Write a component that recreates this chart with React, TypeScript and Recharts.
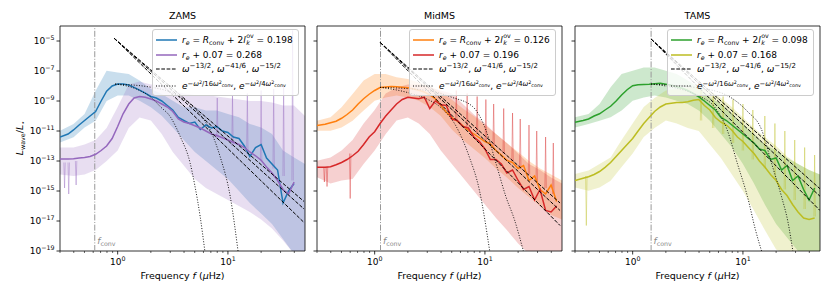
import React from "react";
import { ComposedChart, Line, Area, XAxis, YAxis, ReferenceLine, ReferenceArea } from "recharts";

const FONT = '"DejaVu Sans", sans-serif';

// frequency grids (µHz)
const smoothFreq = [
  0.3, 0.355, 0.398, 0.447, 0.501, 0.562, 0.631, 0.708, 0.794, 0.891,
  1, 1.12, 1.26, 1.41, 1.58, 1.78, 2, 2.24, 2.51, 2.82,
  3.16, 3.55, 3.98, 4.47, 5.01, 5.62, 6.31, 7.08, 7.94, 8.91,
  10, 11.2, 12.6, 14.1, 15.8, 17.8, 20, 22.4, 25.1, 28.2,
  31.6, 35.5, 39.8, 44.7,
];
const bandFreq = [0.3, 0.398, 0.501, 0.631, 0.794, 1, 1.26, 1.58, 2, 2.51, 3.16, 3.98, 5.01, 6.31, 7.94, 10, 12.6, 15.8, 20, 25.1, 31.6, 39.8, 50];

// smoothed spectra, log10(L_wave / L_*)
const zamsBlue = [
  -11.4, -11.2, -10.93, -10.6, -10.3, -10.0, -9.7, -9.0, -8.35, -8.0,
  -7.87, -7.87, -7.93, -8.09, -8.27, -8.47, -8.7, -8.8, -9.0, -9.3,
  -9.6, -10.1, -10.3, -10.5, -10.4, -10.9, -10.6, -10.8, -10.7, -11.0,
  -11.1, -11.4, -11.5, -12.0, -12.7, -12.1, -11.9, -12.8, -13.2, -13.6,
  -15.8, -15.0, -14.5, null,
];
const zamsPurple = [
  -12.87, -12.87, -12.85, -12.8, -12.76, -12.7, -12.55, -12.3, -12.0, -11.5,
  -10.7, -9.85, -9.2, -8.8, -8.7, -8.75, -8.87, -9.0, -9.2, -9.4,
  -9.7, -10.2, -10.4, -10.5, -10.65, -10.8, -11.0, -11.2, -11.3, -11.45,
  -11.6, -11.75, -11.9, -12.1, -12.4, -12.65, -12.95, -13.4, -13.8, -14.3,
  -14.9, -15.2, -14.4, null,
];
const midOrange = [
  -10.64, -10.55, -10.45, -10.35, -10.15, -9.9, -9.6, -9.2, -8.85, -8.55,
  -8.3, -8.1, -8.06, -8.04, -8.05, -8.08, -8.12, -8.2, -8.28, -8.4,
  -8.6, -8.85, -9.3, -9.75, -10.1, -10.35, -10.65, -10.95, -11.2, -11.45,
  -11.7, -11.85, -12.3, -12.6, -12.95, -13.1, -13.5, -13.3, -14.3, -14.0,
  -14.9, -15.2, -14.6, -15.7,
];
const midRed = [
  -13.42, -13.42, -13.38, -13.25, -13.1, -12.9, -12.65, -12.35, -11.9, -11.4,
  -11.05, -10.5, -10.0, -9.6, -9.2, -8.9, -8.75, -8.8, -8.85, -8.75,
  -9.5, -9.0, -9.25, -9.3, -10.2, -10.3, -10.7, -10.8, -11.4, -11.7,
  -12.2, -12.9, -12.9, -13.2, -13.8, -13.6, -14.3, -14.9, -14.7, -15.6,
  -14.9, -16.3, -16.4, -16.0,
];
const tamsGreen = [
  -10.42, -10.3, -10.2, -10.0, -9.85, -9.6, -9.35, -9.0, -8.6, -8.25,
  -7.98, -7.92, -7.9, -7.88, -7.85, -7.82, -7.88, -7.95, -8.05, -8.15,
  -8.3, -8.5, -8.72, -9.0, -9.3, -9.6, -10.1, -10.3, -10.6, -10.9,
  -11.2, -11.5, -11.8, -12.2, -12.3, -12.9, -12.8, -13.6, -13.3, -14.3,
  -14.0, -14.9, -15.6, -14.8,
];
const tamsOlive = [
  -14.31, -14.15, -14.05, -13.9, -13.7, -13.42, -13.1, -12.7, -12.3, -11.9,
  -11.5, -11.0, -10.5, -10.1, -9.7, -9.4, -9.2, -9.15, -9.1, -9.1,
  -9.05, -8.95, -8.9, -9.3, -9.6, -10.1, -10.4, -10.6, -10.95, -11.4,
  -11.7, -12.1, -12.5, -13.0, -13.4, -13.9, -14.3, -14.9, -15.3, -15.9,
  -16.4, -16.8, -16.9, -16.8,
];

// raw spectra envelopes (low / high)
const zamsBlueLo = [-11.76, -11.42, -10.76, -10.31, -9.0, -8.64, -8.64, -8.98, -9.42, -9.98, -10.76, -11.6, -12.4, -13.0, -13.6, -14.2, -15.0, -15.8, -16.5, -17.2, -18.2, -19.2, -19.2];
const zamsBlueHi = [-10.98, -10.53, -9.87, -8.31, -6.98, -7.1, -7.2, -7.64, -8.2, -8.53, -8.98, -9.42, -9.42, -9.64, -9.64, -9.87, -10.09, -10.53, -10.76, -11.2, -12.3, -12.76, -13.2];
const zamsPurpleLo = [-13.9, -14.0, -13.9, -13.6, -13.0, -12.3, -10.8, -10.1, -10.3, -11.2, -12.4, -13.3, -14.2, -14.8, -15.2, -15.6, -16.0, -16.4, -16.9, -17.5, -18.3, -19.2, -19.2];
const zamsPurpleHi = [-12.1, -12.1, -11.9, -11.6, -10.8, -9.4, -7.9, -7.7, -7.9, -7.9, -8.3, -8.5, -8.6, -8.6, -8.7, -8.8, -8.9, -9.0, -9.0, -9.1, -9.3, -9.3, -10.0];
const midOrangeLo = [-10.98, -10.98, -10.76, -10.31, -9.64, -8.98, -8.76, -8.64, -8.76, -8.98, -9.4, -10.0, -10.9, -11.6, -12.2, -12.8, -13.5, -14.1, -14.8, -15.4, -16.0, -16.6, -16.9];
const midOrangeHi = [-10.31, -10.09, -9.42, -8.53, -7.64, -7.2, -7.2, -7.42, -7.53, -7.76, -8.0, -8.4, -8.9, -9.5, -10.0, -10.6, -11.2, -11.8, -12.4, -13.0, -13.5, -13.9, -14.3];
const midRedLo = [-14.09, -14.5, -14.3, -14.2, -13.2, -12.3, -11.2, -10.3, -10.1, -10.5, -11.2, -12.3, -13.2, -14.1, -15.0, -15.9, -16.8, -17.6, -18.5, -19.2, -19.2, -19.2, -19.2];
const midRedHi = [-12.98, -12.76, -12.3, -11.6, -10.5, -9.6, -8.5, -8.1, -7.9, -7.9, -8.1, -8.3, -8.5, -9.2, -9.9, -10.5, -11.2, -11.8, -12.5, -13.2, -13.6, -14.1, -14.5];
const tamsGreenLo = [-10.76, -10.53, -10.31, -10.09, -9.64, -8.98, -8.76, -8.64, -8.76, -8.98, -9.2, -9.64, -10.31, -11.2, -12.09, -13.2, -14.5, -15.9, -17.2, -18.1, -19.0, -19.2, -19.2];
const tamsGreenHi = [-10.09, -9.87, -9.2, -8.09, -7.2, -6.98, -6.76, -6.76, -6.98, -7.2, -7.64, -8.09, -8.76, -9.2, -9.87, -10.53, -11.2, -11.9, -12.3, -12.8, -13.2, -13.6, -13.9];
const tamsOliveLo = [-14.76, -14.98, -14.76, -14.31, -13.4, -12.5, -11.4, -10.8, -10.3, -10.5, -10.8, -11.0, -11.9, -12.8, -13.9, -15.0, -16.3, -17.6, -18.9, -19.2, -19.2, -19.2, -19.2];
const tamsOliveHi = [-13.87, -13.64, -13.2, -12.76, -11.6, -10.5, -9.4, -8.8, -8.3, -8.2, -8.1, -8.1, -8.3, -8.8, -9.4, -10.1, -10.8, -11.4, -12.0, -12.7, -13.2, -13.6, -13.9];

// narrow peaks and dips in the raw spectra of the second series
const zamsSpikeF = [0.33, 0.36, 0.42, 8, 11, 15, 20, 26, 32, 38.6];
const zamsSpikeBase = [-13.1, -13.1, -13.0, -11.5, -12, -12.5, -13, -13.5, -14, -14.3];
const zamsSpikeTop = [-14.8, -15.2, -14.6, -8.8, -8.6, -8.5, -8.3, -8.2, -8.0, -4.3];
const midSpikeF = [0.35, 0.37, 0.6, 5.5, 6.9, 8.5, 10.2, 12.0, 14.8, 17.8, 20.9, 25.1, 29.5, 35.5, 41.7];
const midSpikeBase = [-13.4, -13.4, -12.5, -10.3, -10.7, -11.2, -11.6, -12.0, -12.5, -13.0, -13.4, -13.9, -14.4, -14.8, -15.2];
const midSpikeTop = [-14.4, -14.7, -15.5, -8.3, -8.5, -8.7, -8.9, -9.2, -9.5, -9.8, -10.2, -10.6, -11.0, -11.4, -11.8];
const tamsSpikeF = [0.38, 4.17, 5.37, 6.61, 8.13, 10, 12.3, 15.8, 19.5, 24, 29.5, 36.3, 44.7];
const tamsSpikeBase = [-14.0, -10.3, -10.8, -11.2, -11.8, -12.3, -12.9, -13.5, -14.2, -14.9, -15.6, -16.2, -16.7];
const tamsSpikeTop = [-17.3, -8.3, -8.5, -8.7, -8.9, -9.2, -9.6, -10.0, -10.5, -11.0, -11.6, -12.1, -12.6];

// power laws omega^-13/2, -41/6, -15/2 (start point, end points)
const powerStartF = [0.93, 1.12, 1.47];
const powerStartL = [-4.82, -5.09, -4.87];
const powerEndF = [49, 48, 50];
const powerEnd13_2 = [-15.7, -15.8, -14.85];
const powerEnd41_6 = [-16.2, -16.3, -15.35];
const powerEnd15_2 = [-17.1, -17.3, -16.3];

// gaussian cut-offs (narrow = 1/16, wide = 1/4)
const zamsNarrowF = [0.95, 1.5, 2, 2.44, 3, 3.7, 4.55, 5, 5.6, 6.2];
const zamsNarrowL = [-7.87, -8.22, -8.75, -9.38, -10.05, -11.38, -13.16, -14.6, -16.7, -19.1];
const zamsWideF = [0.95, 2, 3, 4, 5, 6, 6.9, 8.5, 10.5, 12.4];
const zamsWideL = [-7.87, -8.08, -8.4, -8.9, -9.5, -10.2, -10.93, -12.71, -15.38, -19.1];
const midNarrowF = [1.12, 2, 3, 3.9, 5.5, 7.2, 8.9, 11.1];
const midNarrowL = [-8.09, -8.44, -8.88, -9.38, -10.71, -12.71, -14.93, -19.1];
const midWideF = [1.12, 3, 5, 7.76, 10.2, 12.6, 15.5, 18.5, 22.5];
const midWideL = [-8.09, -8.3, -8.75, -9.38, -10.93, -13.16, -15.38, -16.9, -19.1];
const tamsNarrowF = [1.47, 2, 3, 4, 5.5, 7.2, 8.9, 11, 13, 14.9];
const tamsNarrowL = [-7.87, -8.0, -8.3, -8.67, -9.38, -10.93, -13.16, -15.38, -17.6, -19.1];
const tamsWideF = [1.47, 5, 8, 11, 14.8, 18.2, 22.4, 25.5, 28.5];
const tamsWideL = [-7.87, -8.25, -8.83, -9.7, -10.93, -13.16, -15.38, -17.0, -19.1];

const titles = ["ZAMS", "MidMS", "TAMS"];
const fConv = [0.62, 1.13, 1.47];
const reValues = ["0.198", "0.126", "0.098"];
const rePlusValues = ["0.268", "0.196", "0.168"];
const panelLeft = [60, 317, 575];

const xTicks = [0.3, 0.4, 0.5, 0.6, 0.7, 0.8, 0.9, 1, 2, 3, 4, 5, 6, 7, 8, 9, 10, 20, 30, 40];
const yTicks = [-19, -17, -15, -13, -11, -9, -7, -5];

const pts = (fs: number[], vs: (number | null)[]) => fs.map((f, i) => ({ f, v: vs[i] }));
const band = (lo: number[], hi: number[]) => bandFreq.map((f, i) => ({ f, range: [lo[i], hi[i]] }));
const spikes = (fs: number[], base: number[], top: number[]) =>
  fs.flatMap((f, i) => [
    { f: f * 0.985, v: base[i] },
    { f, v: top[i] },
    { f: f * 1.015, v: base[i] },
    { f: f * 1.02, v: null },
  ]);

const panels = [
  {
    c1: "#1f77b4", c2: "#9467bd",
    band1: band(zamsBlueLo, zamsBlueHi), band2: band(zamsPurpleLo, zamsPurpleHi),
    smooth1: pts(smoothFreq, zamsBlue), smooth2: pts(smoothFreq, zamsPurple),
    spikes: spikes(zamsSpikeF, zamsSpikeBase, zamsSpikeTop),
    dots: [pts(zamsNarrowF, zamsNarrowL), pts(zamsWideF, zamsWideL)],
  },
  {
    c1: "#ff7f0e", c2: "#d62728",
    band1: band(midOrangeLo, midOrangeHi), band2: band(midRedLo, midRedHi),
    smooth1: pts(smoothFreq, midOrange), smooth2: pts(smoothFreq, midRed),
    spikes: spikes(midSpikeF, midSpikeBase, midSpikeTop),
    dots: [pts(midNarrowF, midNarrowL), pts(midWideF, midWideL)],
  },
  {
    c1: "#2ca02c", c2: "#bcbd22",
    band1: band(tamsGreenLo, tamsGreenHi), band2: band(tamsOliveLo, tamsOliveHi),
    smooth1: pts(smoothFreq, tamsGreen), smooth2: pts(smoothFreq, tamsOlive),
    spikes: spikes(tamsSpikeF, tamsSpikeBase, tamsSpikeTop),
    dots: [pts(tamsNarrowF, tamsNarrowL), pts(tamsWideF, tamsWideL)],
  },
];

const powerLines = (i: number) =>
  [powerEnd13_2, powerEnd41_6, powerEnd15_2].map((end) =>
    pts([powerStartF[i], powerEndF[i]], [powerStartL[i], end[i]])
  );

const Sub = ({ children, size = 6.3, shift = 2 }: any) => (
  <span style={{ fontSize: size, position: "relative", top: shift }}>{children}</span>
);
const Sup = ({ children, size = 6.3, shift = -3.5 }: any) => (
  <span style={{ fontSize: size, position: "relative", top: shift }}>{children}</span>
);

const XTick = (props: any) => {
  const { x, y, payload } = props;
  const v = payload.value;
  const major = v === 1 || v === 10;
  return (
    <g>
      <line x1={x} x2={x} y1={y} y2={y + (major ? 3.5 : 2)} stroke="#000" strokeWidth={major ? 0.8 : 0.6} />
      {major && (
        <text x={x} y={y + 14} textAnchor="middle" fontSize={9} fontFamily={FONT} fill="#000">
          10<tspan dy={-4} fontSize={6.3}>{v === 1 ? "0" : "1"}</tspan>
        </text>
      )}
    </g>
  );
};

const YTick = (props: any) => {
  const { x, y, payload, showLabel } = props;
  return (
    <g>
      <line x1={x - 3.5} x2={x} y1={y} y2={y} stroke="#000" strokeWidth={0.8} />
      {showLabel && (
        <text x={x - 5.5} y={y + 3.3} textAnchor="end" fontSize={9} fontFamily={FONT} fill="#000">
          10<tspan dy={-4} fontSize={6.3}>{"\u2212" + Math.abs(payload.value)}</tspan>
        </text>
      )}
    </g>
  );
};

const fconvLabel = (props: any) => {
  const vb = props.viewBox || {};
  return (
    <text x={vb.x + 2.5} y={vb.y + vb.height - 7} fill="#888" fontSize={9} fontFamily={FONT}>
      <tspan fontStyle="italic">f</tspan>
      <tspan fontSize={6.3} dy={2}>conv</tspan>
    </text>
  );
};

function LegendBox({ c1, c2, v1, v2 }: { c1: string; c2: string; v1: string; v2: string }) {
  const sample = (center: number, color: string, dash?: string, w = 1.5) => (
    <svg style={{ position: "absolute", left: 3, top: center - 2 }} width={21} height={4}>
      <line x1={0} x2={21} y1={2} y2={2} stroke={color} strokeWidth={w} strokeDasharray={dash} />
    </svg>
  );
  const text = (center: number, content: React.ReactNode) => (
    <div style={{ position: "absolute", left: 29, top: center - 6, lineHeight: "12px", whiteSpace: "nowrap" }}>{content}</div>
  );
  const sup2 = <Sup size={4.8} shift={-1.8}>2</Sup>;
  const subConv = <Sub size={4.8} shift={1}>conv</Sub>;
  return (
    <div
      style={{
        position: "absolute", left: 152, top: 29, width: 147, height: 67, boxSizing: "border-box",
        background: "rgba(255,255,255,0.8)", border: "1px solid #ccc", borderRadius: 3,
        fontFamily: FONT, fontSize: 9, color: "#000",
      }}
    >
      {sample(9.5, c1)}
      {text(9.5, <><i>r</i><Sub><i>e</i></Sub> = <i>R</i><Sub>conv</Sub> + 2<i>l</i>
        <span style={{ position: "relative", display: "inline-block", width: 8, height: 9 }}>
          <span style={{ position: "absolute", left: 0.5, top: -1.5, fontSize: 6.3, lineHeight: "7px" }}>ov</span>
          <span style={{ position: "absolute", left: 0.5, top: 5, fontSize: 6.3, lineHeight: "7px" }}><i>k</i></span>
        </span> = {v1}</>)}
      {sample(24.5, c2)}
      {text(24.5, <><i>r</i><Sub><i>e</i></Sub> + 0.07 = {v2}</>)}
      {sample(38.5, "#000", "3.7 1.6", 1)}
      {text(38.5, <><i>ω</i><Sup size={7}>−13/2</Sup>, <i>ω</i><Sup size={7}>−41/6</Sup>, <i>ω</i><Sup size={7}>−15/2</Sup></>)}
      {sample(56, "#000", "1 1.65", 1)}
      {text(56, <><i>e</i><Sup size={6.8}>−<i>ω</i>{sup2}/16<i>ω</i>{sup2}{subConv}</Sup>, <i>e</i><Sup size={6.8}>−<i>ω</i>{sup2}/4<i>ω</i>{sup2}{subConv}</Sup></>)}
    </div>
  );
}

function Panel({ idx }: { idx: number }) {
  const p = panels[idx];
  return (
    <div style={{ position: "absolute", left: panelLeft[idx] - 60, top: 0, width: 313, height: 298 }}>
      <ComposedChart width={313} height={298} margin={{ top: 26, right: 8, bottom: 17, left: 0 }}>
        <XAxis
          dataKey="f" type="number" scale="log" domain={[0.3, 50]} allowDataOverflow
          ticks={xTicks} interval={0} height={30} axisLine={false} tickLine={false}
          tickSize={0} tickMargin={0} tick={<XTick />}
        />
        <YAxis
          type="number" domain={[-19, -4]} allowDataOverflow ticks={yTicks} interval={0}
          width={60} axisLine={false} tickLine={false} tickSize={0} tickMargin={0}
          tick={<YTick showLabel={idx === 0} />}
        />
        <ReferenceLine x={fConv[idx]} stroke="#999" strokeWidth={1} strokeDasharray="6 1.6 1 1.6" label={fconvLabel} />
        <Area data={p.band1} dataKey="range" stroke="none" fill={p.c1} fillOpacity={0.24} dot={false} activeDot={false} isAnimationActive={false} />
        <Area data={p.band2} dataKey="range" stroke="none" fill={p.c2} fillOpacity={0.22} dot={false} activeDot={false} isAnimationActive={false} />
        <Line data={p.spikes} dataKey="v" stroke={p.c2} strokeOpacity={0.4} strokeWidth={1} dot={false} activeDot={false} isAnimationActive={false} />
        <Line data={p.smooth1} dataKey="v" stroke={p.c1} strokeWidth={1.5} dot={false} activeDot={false} isAnimationActive={false} />
        <Line data={p.smooth2} dataKey="v" stroke={p.c2} strokeWidth={1.5} dot={false} activeDot={false} isAnimationActive={false} />
        {powerLines(idx).map((d, k) => (
          <Line key={`pw-${k}`} data={d} dataKey="v" stroke="#000" strokeWidth={1} strokeDasharray="3.7 1.6" dot={false} activeDot={false} isAnimationActive={false} />
        ))}
        {p.dots.map((d, k) => (
          <Line key={`g-${k}`} type="monotone" data={d} dataKey="v" stroke="#000" strokeWidth={0.9} strokeDasharray="1 1.65" dot={false} activeDot={false} isAnimationActive={false} />
        ))}
        <ReferenceArea x1={0.3} x2={50} y1={-19} y2={-4} fill="none" fillOpacity={0} stroke="#000" strokeWidth={0.8} ifOverflow="visible" />
      </ComposedChart>
      <LegendBox c1={p.c1} c2={p.c2} v1={reValues[idx]} v2={rePlusValues[idx]} />
      <div style={{ position: "absolute", left: 60, top: 10, width: 245, textAlign: "center", fontFamily: FONT, fontSize: 9.5, lineHeight: "12px" }}>
        {titles[idx]}
      </div>
      <div style={{ position: "absolute", left: 60, top: 270, width: 245, textAlign: "center", fontFamily: FONT, fontSize: 9.5, lineHeight: "12px" }}>
        Frequency <i>f</i> (<i>μ</i>Hz)
      </div>
      {idx === 0 && (
        <div
          style={{
            position: "absolute", left: -30, top: 132, width: 100, height: 12, textAlign: "center",
            fontFamily: FONT, fontSize: 9.5, lineHeight: "12px", transform: "rotate(-90deg)",
          }}
        >
          <i>L</i><Sub>wave</Sub>/<i>L</i><Sub>⋆</Sub>
        </div>
      )}
    </div>
  );
}

export default function App() {
  return (
    <div style={{ position: "absolute", left: 0, top: 0, width: 830, height: 298, background: "#fff", overflow: "hidden" }}>
      {[0, 1, 2].map((i) => (
        <Panel key={i} idx={i} />
      ))}
    </div>
  );
}
